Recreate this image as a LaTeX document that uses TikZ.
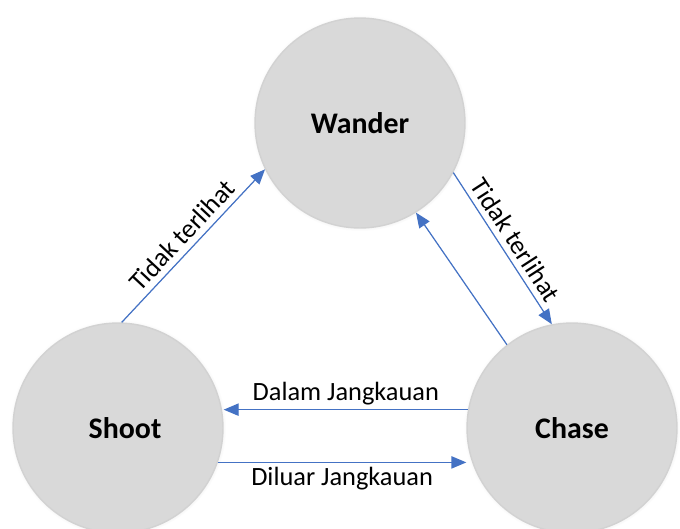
\documentclass[tikz,border=0pt]{standalone}
\usepackage{fontspec}
\setmainfont{Carlito}
\usetikzlibrary{arrows.meta,shadows}
\definecolor{stategray}{HTML}{D9D9D9}
\definecolor{transblue}{HTML}{4472C4}
\begin{document}
\begin{tikzpicture}[x=0.02cm, y=-0.02cm,
	state/.style={circle, fill=stategray, draw=gray!35, line width=0.8pt, minimum size=4.2cm, inner sep=0pt,
		circular drop shadow={shadow xshift=0pt, shadow yshift=0pt, shadow scale=1.03, opacity=0.3},
		font=\fontsize{17}{20}\selectfont\bfseries},
	trans/.style={draw=transblue, line width=0.7pt, -{Triangle[length=8.5pt, width=7pt]}, fill=transblue},
	lbl/.style={font=\fontsize{15}{17}\selectfont, text=black}]
	\useasboundingbox (0,0) rectangle (680,528);
	% states
	\node[state] (wander) at (360,123) {Wander};
	\node[state] (shoot) at (118,428) {\hspace*{8pt}Shoot};
	\node[state] (chase) at (572,428) {Chase};
	% transitions
	\draw[trans] (shoot.88) -- (wander.206) node[lbl, sloped, above, pos=0.5] {Tidak terlihat};
	\draw[trans] (wander.-28) -- (chase.101) node[lbl, sloped, above, pos=0.5] {Tidak terlihat};
	\draw[trans] (chase.128) -- (wander.-58);
	\draw[trans] (chase.170) -- (chase.170 -| shoot.east) node[lbl, midway, above, yshift=-1pt] {Dalam Jangkauan};
	\draw[trans] (shoot.-19) -- (shoot.-19 -| chase.west) node[lbl, midway, below, yshift=1pt] {Diluar Jangkauan};
\end{tikzpicture}
\end{document}
